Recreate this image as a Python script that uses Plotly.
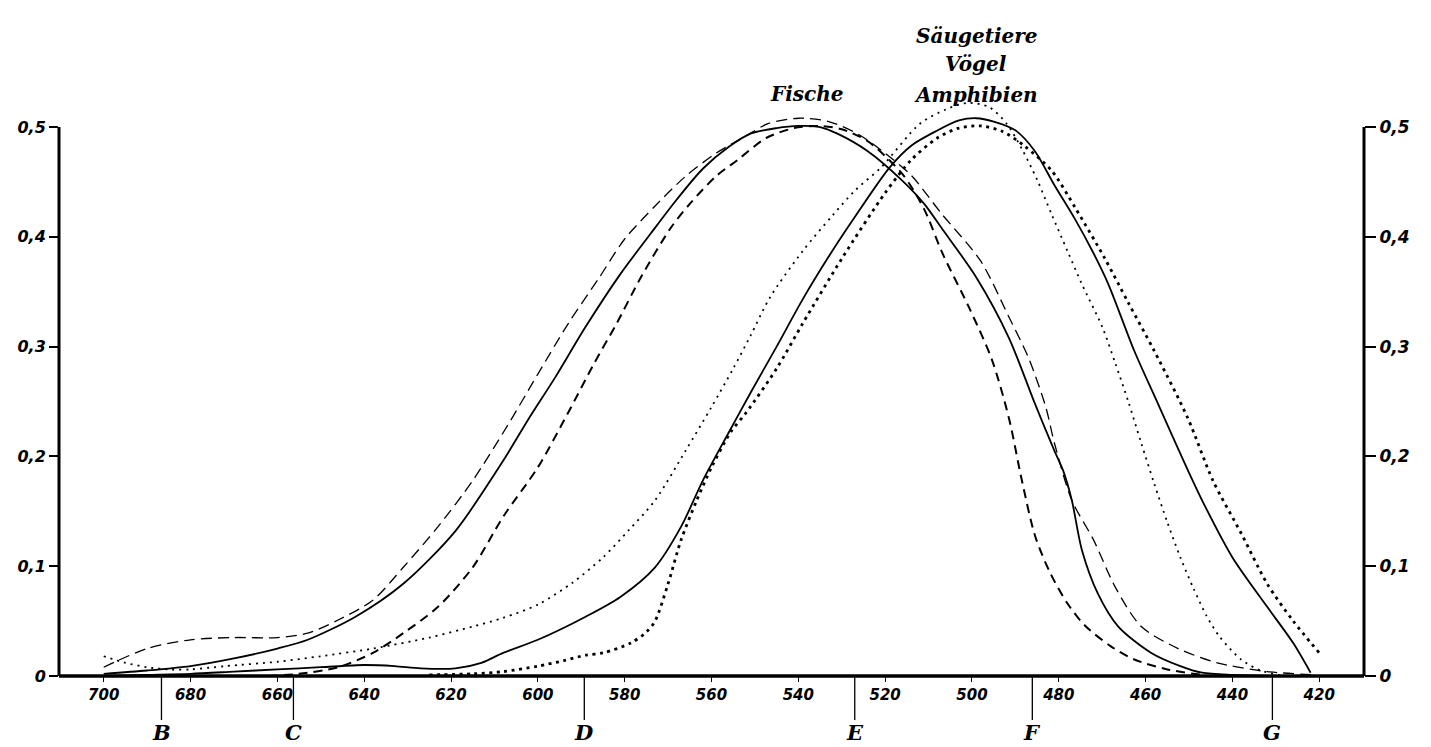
import plotly.graph_objects as go

# ---------------- data ----------------
# Fische, thin long-dashed curve (widest)
fische_dash_wl = [700, 690, 680, 670, 660, 653, 646, 638, 631, 623, 615, 607, 600, 593, 586, 580,
                  573, 566, 559, 552, 547, 540, 533, 526, 520, 514, 507, 498, 491.5, 487, 483, 481,
                  477, 472, 467, 461, 452.5, 443.5, 432, 420.5]
fische_dash_v = [0.008, 0.025, 0.033, 0.035, 0.035, 0.039, 0.051, 0.069, 0.099, 0.136, 0.178, 0.228,
                 0.275, 0.321, 0.362, 0.398, 0.428, 0.455, 0.476, 0.492, 0.503, 0.508, 0.505, 0.493,
                 0.476, 0.456, 0.421, 0.378, 0.327, 0.290, 0.245, 0.212, 0.160, 0.124, 0.081, 0.045,
                 0.025, 0.012, 0.004, 0.001]

# Fische, solid curve
fische_solid_wl = [700, 690, 680, 670, 660, 653, 642, 631, 619, 608, 602, 596, 589, 581, 574, 568,
                   562, 556, 551, 545, 540, 535, 531, 524, 516, 511, 507, 499, 491.5, 485.5, 481,
                   479, 477, 474.7, 471, 466.3, 458.7, 452, 447, 440, 430]
fische_solid_v = [0.002, 0.005, 0.009, 0.016, 0.025, 0.033, 0.054, 0.084, 0.132, 0.196, 0.235, 0.272,
                  0.318, 0.366, 0.403, 0.434, 0.462, 0.482, 0.494, 0.499, 0.501, 0.500, 0.494, 0.478,
                  0.451, 0.430, 0.408, 0.363, 0.308, 0.248, 0.205, 0.187, 0.160, 0.115, 0.075, 0.045,
                  0.021, 0.009, 0.003, 0.001, 0.0]

# Fische, heavier dashed curve (narrowest)
fische_dash2_wl = [662, 655, 646, 638, 631, 623, 615, 608, 600, 593, 587, 582, 576, 569.4, 565, 559,
                   554, 547.4, 541, 535, 530, 524, 516, 511, 506.8, 500.6, 495.4, 491.5, 488.5,
                   485.5, 482, 478, 474, 468, 462.6, 455, 447]
fische_dash2_v = [0.0, 0.002, 0.008, 0.021, 0.039, 0.063, 0.099, 0.145, 0.190, 0.240, 0.285, 0.320,
                  0.365, 0.408, 0.430, 0.455, 0.470, 0.490, 0.499, 0.501, 0.498, 0.487, 0.457, 0.425,
                  0.385, 0.335, 0.288, 0.235, 0.178, 0.128, 0.094, 0.066, 0.046, 0.027, 0.015, 0.006,
                  0.001]

# Säugetiere / Vögel / Amphibien, solid curve
amph_solid_wl = [700, 690, 680, 670, 660, 650, 640, 633, 627, 619, 613, 608, 600, 589, 581, 573, 567,
                 562, 556, 551, 545, 539, 533, 527.5, 519, 514, 508.4, 503, 499, 495, 490,
                 485.5, 481, 476.4, 472, 468.6, 462.6, 457.5, 450, 447, 440, 432, 426, 422]
amph_solid_v = [0.000, 0.001, 0.002, 0.004, 0.006, 0.008, 0.010, 0.009, 0.007, 0.007, 0.012, 0.021,
                0.033, 0.054, 0.072, 0.099, 0.136, 0.178, 0.222, 0.258, 0.300, 0.343, 0.382,
                0.415, 0.463, 0.483, 0.496, 0.506, 0.508, 0.505, 0.497, 0.478, 0.447, 0.417, 0.385,
                0.357, 0.296, 0.251, 0.185, 0.160, 0.108, 0.063, 0.030, 0.003]

# fine dotted curve
amph_dot_wl = [700, 695, 690, 685, 680, 672, 660, 650, 638, 625, 615, 608, 600, 592, 585, 579, 573,
               566, 560, 555, 551, 546.5, 539, 532, 527, 521, 512, 506, 501, 496, 492, 488.5, 485,
               481.6, 478, 474.7, 470, 467, 464, 461, 458, 455, 452, 449, 446, 443, 438, 433.5, 428]
amph_dot_v = [0.018, 0.012, 0.008, 0.006, 0.006, 0.009, 0.013, 0.018, 0.025, 0.035, 0.045, 0.053,
              0.065, 0.085, 0.108, 0.133, 0.160, 0.205, 0.245, 0.280, 0.310, 0.345, 0.387, 0.420,
              0.442, 0.463, 0.503, 0.516, 0.522, 0.518, 0.503, 0.480, 0.452, 0.420, 0.387, 0.357,
              0.318, 0.285, 0.250, 0.212, 0.175, 0.140, 0.108, 0.080, 0.055, 0.036, 0.015, 0.005,
              0.0]

# heavy dotted curve
amph_dot2_wl = [625, 615, 608, 600, 594, 589, 585, 578.6, 575, 573, 570, 567, 563.4, 560, 555.6, 552,
                545, 539, 530, 520, 514, 508, 503, 498, 493, 488, 481.6, 476, 469.5, 464, 458,
                450.3, 444.5, 438, 432, 426, 420]
amph_dot2_v = [0.001, 0.002, 0.004, 0.009, 0.014, 0.019, 0.021, 0.030, 0.040, 0.050, 0.084, 0.124,
               0.160, 0.190, 0.222, 0.240, 0.280, 0.321, 0.380, 0.440, 0.470, 0.490, 0.499, 0.501,
               0.496, 0.483, 0.460, 0.425, 0.381, 0.340, 0.296, 0.235, 0.178, 0.130, 0.084, 0.050,
               0.021]

x_ticks = [700, 680, 660, 640, 620, 600, 580, 560, 540, 520, 500, 480, 460, 440, 420]
y_ticks = [0, 0.1, 0.2, 0.3, 0.4, 0.5]
y_tick_text = ["0", "0,1", "0,2", "0,3", "0,4", "0,5"]

fraunhofer_names = ["B", "C", "D", "E", "F", "G"]
fraunhofer_wl = [686.7, 656.3, 589.3, 527.0, 486.1, 430.8]

# ---------------- figure ----------------
# page has an 8px body margin, so the figure is 8px smaller and margins shifted
W, H = 1423, 739
ML, MR, MT, MB = 44, 67, 9, 71
PLOT_H = H - MT - MB
Y_TOP = 0.6002
fig = go.Figure()

def add_curve(x, y, width, dash):
    fig.add_trace(go.Scatter(
        x=x, y=y, mode="lines",
        line=dict(color="black", width=width, dash=dash, shape="spline", smoothing=0.8),
        showlegend=False, hoverinfo="skip"))

add_curve(fische_dash_wl, fische_dash_v, 1.3, "11px,6px")
add_curve(fische_solid_wl, fische_solid_v, 1.8, "solid")
add_curve(fische_dash2_wl, fische_dash2_v, 2.0, "9px,6px")
add_curve(amph_solid_wl, amph_solid_v, 1.8, "solid")
add_curve(amph_dot_wl, amph_dot_v, 1.8, "2px,5px")
add_curve(amph_dot2_wl, amph_dot2_v, 2.8, "3px,4.5px")

# dummy trace to activate the right-hand axis
fig.add_trace(go.Scatter(x=[600], y=[0], yaxis="y2", mode="markers",
                         marker=dict(opacity=0), showlegend=False, hoverinfo="skip"))

fig.update_layout(
    width=W, height=H,
    paper_bgcolor="white", plot_bgcolor="white",
    margin=dict(l=ML, r=MR, t=MT, b=MB),
    xaxis=dict(range=[710.3, 409.7], tickvals=x_ticks, ticktext=[str(v) for v in x_ticks],
               ticks="outside", ticklen=5, tickwidth=1, tickcolor="black",
               showgrid=False, zeroline=False, showline=False,
               tickfont=dict(family="DejaVu Sans", size=15, color="black", weight="bold", style="italic")),
    yaxis=dict(range=[0, Y_TOP], tickvals=y_ticks, ticktext=y_tick_text,
               ticks="outside", ticklen=9, tickwidth=1.5, tickcolor="black",
               showgrid=False, zeroline=False, showline=False,
               tickfont=dict(family="DejaVu Sans", size=16, color="black", weight="bold", style="italic")),
    yaxis2=dict(range=[0, Y_TOP], tickvals=y_ticks, ticktext=y_tick_text, overlaying="y", side="right",
                ticks="outside", ticklen=11, tickwidth=1.5, tickcolor="black",
                showgrid=False, zeroline=False, showline=False,
                tickfont=dict(family="DejaVu Sans", size=17, color="black", weight="bold", style="italic")),
)

# axes lines
fig.add_shape(type="line", xref="paper", yref="paper", x0=0, x1=1, y0=0, y1=0,
              line=dict(color="black", width=3.5))
fig.add_shape(type="line", xref="paper", yref="paper", x0=0, x1=0, y0=0, y1=0.5 / Y_TOP,
              line=dict(color="black", width=3))
fig.add_shape(type="line", xref="paper", yref="paper", x0=1, x1=1, y0=0, y1=0.5 / Y_TOP,
              line=dict(color="black", width=3))

# Fraunhofer lines
for name, wl in zip(fraunhofer_names, fraunhofer_wl):
    fig.add_shape(type="line", xref="x", yref="paper", x0=wl, x1=wl, y0=0, y1=-44 / PLOT_H,
                  line=dict(color="black", width=1.3))
    fig.add_annotation(x=wl, xref="x", y=-57 / PLOT_H, yref="paper", text="<b><i>%s</i></b>" % name,
                       showarrow=False, yanchor="middle", xanchor="center",
                       font=dict(family="DejaVu Serif", size=21, color="black"))

# group labels (positions given as pixel distances above the baseline)
label_font = dict(family="DejaVu Serif", size=20, color="black")
fig.add_annotation(x=538, xref="x", y=(676 - 80) / PLOT_H, yref="paper", text="<b><i>Fische</i></b>",
                   showarrow=False, font=label_font)
for txt, py in [("Säugetiere", 22), ("Vögel", 50), ("Amphibien", 81)]:
    fig.add_annotation(x=499, xref="x", y=(676 - py) / PLOT_H, yref="paper", text="<b><i>%s</i></b>" % txt,
                       showarrow=False, font=label_font)

fig.write_html("out.html")
